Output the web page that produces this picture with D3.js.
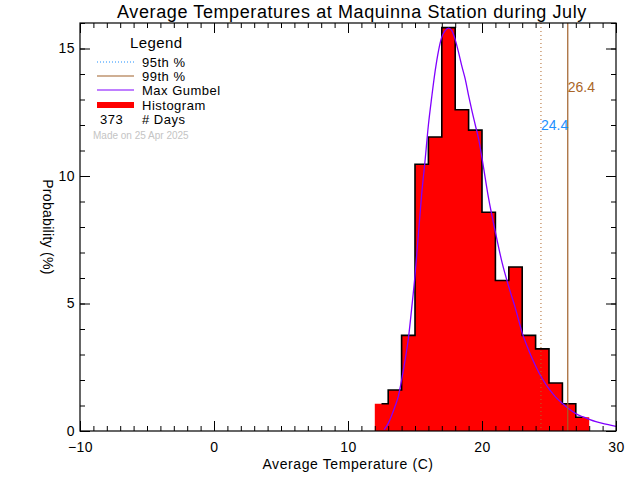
<!DOCTYPE html>
<html lang="en">
<head>
    <meta charset="UTF-8">
    <title>Average Temperatures at Maquinna Station during July</title>
    <script src="https://d3js.org/d3.v7.min.js"></script>
    <style>
        body { margin: 0; background: #fff; }
        text { font-family: "Liberation Sans", Arial, sans-serif; fill: #000; }
        .tick line { stroke: #000; }
        .tick text { font-size: 14px; letter-spacing: 0.5px; }
    </style>
</head>
<body>
    <div id="chart"></div>
    <script>
        // Histogram bins (lower edge, degrees C) and probability (%) per bin
        const binLow = [12, 13, 14, 15, 16, 17, 18, 19, 20, 21, 22, 23, 24, 25, 26, 27];
        const probability = [1.07, 1.61, 3.75, 10.46, 11.53, 15.82, 12.60, 11.80,
                             8.58, 5.90, 6.43, 3.75, 3.22, 1.88, 1.07, 0.54];

        // Max Gumbel fit
        const gumbelTemp = [12.69, 13.0, 13.25, 13.5, 13.75, 14.0, 14.25, 14.5, 14.75, 15.0,
                            15.25, 15.5, 15.75, 16.0, 16.25, 16.5, 16.75, 17.0, 17.25, 17.5,
                            17.75, 18.0, 18.25, 18.5, 18.75, 19.0, 19.25, 19.5, 19.75, 20.0,
                            20.5, 21.0, 21.5, 22.0, 22.5, 23.0, 23.5, 24.0, 24.5, 25.0,
                            25.5, 26.0, 26.5, 27.0, 27.5, 28.0, 28.5, 29.0, 29.5, 30.0];
        const gumbelProb = [0.05, 0.3, 0.6, 0.95, 1.35, 2.0, 2.75, 3.6, 4.8, 6.1,
                            7.7, 9.3, 10.6, 12.0, 13.1, 14.1, 14.9, 15.45, 15.7, 15.8,
                            15.7, 15.35, 14.85, 14.3, 13.8, 13.15, 12.55, 12.0, 11.45, 10.7,
                            9.1, 7.8, 6.6, 5.65, 4.8, 3.85, 3.15, 2.55, 2.05, 1.65,
                            1.33, 1.08, 0.86, 0.68, 0.56, 0.46, 0.37, 0.3, 0.24, 0.18];

        const p95 = 24.4, p99 = 26.4;
        const nDays = 373;
        const xMajor = [-10, 0, 10, 20, 30];
        const yMajor = [0, 5, 10, 15];

        const W = 640, H = 480;
        const margin = { top: 23, right: 24, bottom: 49, left: 80 },
              width = W - margin.left - margin.right,
              height = H - margin.top - margin.bottom;

        const svgRoot = d3.select("#chart").append("svg")
            .attr("width", W).attr("height", H);
        const svg = svgRoot.append("g")
            .attr("transform", `translate(${margin.left},${margin.top})`);

        const x = d3.scaleLinear().domain([-10, 30]).range([0, width]);
        const y = d3.scaleLinear().domain([0, 16]).range([height, 0]);

        const hist = binLow.map((lo, i) => ({ lo: lo, p: probability[i] }));
        const gumbel = gumbelTemp.map((t, i) => ({ t: t, p: gumbelProb[i] }));

        // Histogram fill as one stepped area (closing edge = last bin's upper edge)
        const histEdges = hist.concat([{ lo: binLow[binLow.length - 1] + 1, p: probability[probability.length - 1] }]);
        svg.append("path")
           .datum(histEdges)
           .attr("fill", "#ff0000")
           .attr("d", d3.area().curve(d3.curveStepAfter)
               .x(d => x(d.lo)).y0(y(0)).y1(d => y(d.p)));

        // Histogram step outline (centre of first bin to centre of last)
        svg.append("path")
           .datum(hist)
           .attr("fill", "none")
           .attr("stroke", "#000")
           .attr("stroke-width", 1.6)
           .attr("d", d3.line().curve(d3.curveStep)
               .x(d => x(d.lo + 0.5)).y(d => y(d.p)));

        // Gumbel curve
        svg.append("path")
           .datum(gumbel)
           .attr("fill", "none")
           .attr("stroke", "#8000ff")
           .attr("stroke-width", 1.3)
           .attr("d", d3.line().curve(d3.curveMonotoneX)
               .x(d => x(d.t)).y(d => y(d.p)));

        // Percentile lines
        svg.append("line")
           .attr("x1", x(p95)).attr("x2", x(p95))
           .attr("y1", 0).attr("y2", height)
           .attr("stroke", "#b0682a").attr("stroke-width", 1)
           .attr("stroke-dasharray", "1,3");
        svg.append("line")
           .attr("x1", x(p99)).attr("x2", x(p99))
           .attr("y1", 0).attr("y2", height)
           .attr("stroke", "#a0602a").attr("stroke-width", 1.2);

        svg.append("text")
           .attr("x", x(p95)).attr("y", y(12))
           .attr("dy", "0.35em")
           .style("font-size", "14px").style("fill", "#1e90ff")
           .text(p95.toFixed(1));
        svg.append("text")
           .attr("x", x(p99)).attr("y", y(13.47))
           .attr("dy", "0.35em")
           .style("font-size", "14px").style("fill", "#aa6628")
           .text(p99.toFixed(1));

        // Axes: minor ticks every 1, major ticks with labels, all pointing inward
        const minorX = d3.range(-10, 31, 1), minorY = d3.range(0, 17, 1);

        function axisPair(axisFn, scale, minor, major, transform, labelled, pad) {
            svg.append("g").attr("transform", transform)
               .call(axisFn(scale).tickValues(minor).tickSize(-5).tickFormat(""))
               .call(g => g.select(".domain").remove());
            svg.append("g").attr("transform", transform)
               .call(axisFn(scale).tickValues(major).tickSize(-10).tickPadding(pad)
                   .tickFormat(labelled ? d3.format("d") : ""))
               .call(g => g.select(".domain").remove());
        }
        axisPair(d3.axisBottom, x, minorX, xMajor, `translate(0,${height})`, true, 11);
        axisPair(d3.axisTop, x, minorX, xMajor, "translate(0,0)", false, 0);
        axisPair(d3.axisLeft, y, minorY, yMajor, "translate(0,0)", true, 5);
        axisPair(d3.axisRight, y, minorY, yMajor, `translate(${width},0)`, false, 0);

        // Frame
        svg.append("rect")
           .attr("width", width).attr("height", height)
           .attr("fill", "none").attr("stroke", "#000").attr("stroke-width", 1.2);

        // Titles
        svgRoot.append("text")
           .attr("x", 352).attr("y", 18)
           .attr("text-anchor", "middle")
           .style("font-size", "18px").style("letter-spacing", "0.6px")
           .text("Average Temperatures at Maquinna Station during July");

        svgRoot.append("text")
           .attr("x", 348).attr("y", 469)
           .attr("text-anchor", "middle")
           .style("font-size", "14px").style("letter-spacing", "0.6px")
           .text("Average Temperature (C)");

        svgRoot.append("text")
           .attr("transform", `translate(43,${margin.top + height / 2}) rotate(90)`)
           .attr("text-anchor", "middle")
           .style("font-size", "14px").style("letter-spacing", "0.3px")
           .text("Probability (%)");

        // Legend
        const legend = svgRoot.append("g");
        legend.append("text").attr("x", 130).attr("y", 48)
              .style("font-size", "15px").style("letter-spacing", "0.4px").text("Legend");

        const rows = [
            { label: "95th %", y: 62, color: "#1e90ff", dash: "1,2", w: 1 },
            { label: "99th %", y: 76, color: "#a0602a", dash: null, w: 1.2 },
            { label: "Max Gumbel", y: 90, color: "#8000ff", dash: null, w: 1.2 },
            { label: "Histogram", y: 105, color: "#ff0000", dash: null, w: 6 }
        ];
        rows.forEach(r => {
            legend.append("line")
                  .attr("x1", 97).attr("x2", 134).attr("y1", r.y).attr("y2", r.y)
                  .attr("stroke", r.color).attr("stroke-width", r.w)
                  .attr("stroke-dasharray", r.dash);
            legend.append("text").attr("x", 142).attr("y", r.y).attr("dy", "0.35em")
                  .style("font-size", "13px").style("letter-spacing", "0.5px").text(r.label);
        });
        legend.append("text").attr("x", 100).attr("y", 119).attr("dy", "0.35em")
              .style("font-size", "13px").style("letter-spacing", "0.5px").text(nDays);
        legend.append("text").attr("x", 142).attr("y", 119).attr("dy", "0.35em")
              .style("font-size", "13px").style("letter-spacing", "0.5px").text("# Days");
        legend.append("text").attr("x", 93).attr("y", 135).attr("dy", "0.35em")
              .style("font-size", "10px").style("fill", "#c4c4c4")
              .text("Made on 25 Apr 2025");
    </script>
</body>
</html>
